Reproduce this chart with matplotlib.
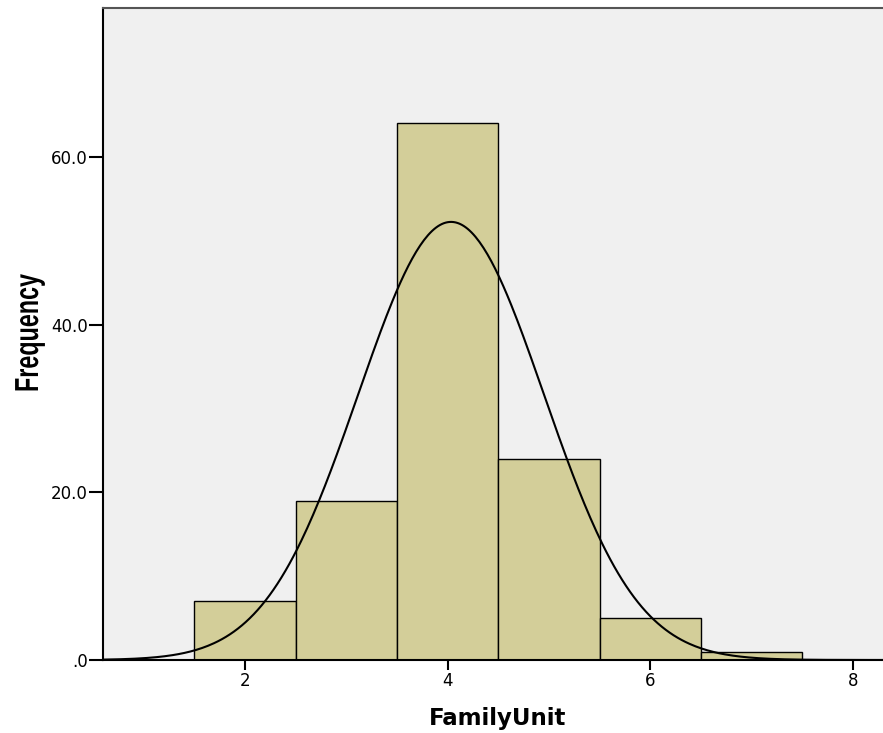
import numpy as np
import matplotlib.pyplot as plt
from matplotlib import patheffects
from matplotlib.transforms import Affine2D

# histogram of FamilyUnit (bin centres and counts)
bins = [2, 3, 4, 5, 6, 7]
counts = [7, 19, 64, 24, 5, 1]
yticks = [0, 20, 40, 60]
ytick_labels = [".0", "20.0", "40.0", "60.0"]
xticks = [2, 4, 6, 8]


class Stretch(patheffects.AbstractPathEffect):
    """squeeze glyphs along the text direction (narrow font look)"""
    def __init__(self, sx):
        super().__init__()
        self.sx = sx

    def draw_path(self, renderer, gc, tpath, affine, rgbFace=None):
        renderer.draw_path(gc, tpath, Affine2D().scale(self.sx, 1.0) + affine, rgbFace)


plt.rcParams['font.family'] = ['DejaVu Sans']

W, H = 883, 733
fig = plt.figure(figsize=(W / 100, H / 100), dpi=100)
ax = fig.add_axes([103 / W, 1 - 660 / H, 1 - 103 / W + 0.01, 652 / H])
ax.set_facecolor('#f0f0f0')

ax.bar(bins, counts, width=1.0, color='#d3ce99', edgecolor='black', linewidth=1.0, zorder=2)

# normal curve fitted to the data
x = np.array(bins, dtype=float)
f = np.array(counts, dtype=float)
n = f.sum()
mu = (x * f).sum() / n
sd = np.sqrt(((x - mu) ** 2 * f).sum() / (n - 1))
xs = np.linspace(0.6, 8.4, 400)
ys = n / (sd * np.sqrt(2 * np.pi)) * np.exp(-0.5 * ((xs - mu) / sd) ** 2)
ax.plot(xs, ys, color='black', linewidth=1.5, zorder=3)

# x: 2 -> 245 px, 8 -> 853 px
ppu = (853 - 245) / 6
x0 = 2 - (245 - 103) / ppu
ax.set_xlim(x0, x0 + (W - 103) / ppu * (1 + 0.01 * W / (W - 103)))
ax.set_ylim(0, 60 * 652 / (660 - 157))
ax.set_xticks(xticks)
ax.set_yticks(yticks)
ax.set_yticklabels(ytick_labels)
ax.tick_params(axis='x', direction='out', length=7, width=1.5, labelsize=12, pad=2)
ax.tick_params(axis='y', direction='out', length=10, width=1.5, labelsize=12, pad=1)

for s in ['left', 'bottom']:
    ax.spines[s].set_linewidth(1.5)
ax.spines['top'].set_color('#555555')
ax.spines['top'].set_linewidth(1.5)
ax.spines['right'].set_visible(False)

ax.set_xlabel("FamilyUnit", fontsize=16.5, fontweight='bold', labelpad=12)

fig.text(38 / W, 1 - 392 / H, "Frequency", rotation=90, rotation_mode='anchor',
         ha='left', va='baseline', fontsize=24, fontweight='bold',
         family=['Liberation Sans', 'DejaVu Sans'], path_effects=[Stretch(0.70)])

fig.savefig('out.png', dpi=100)
